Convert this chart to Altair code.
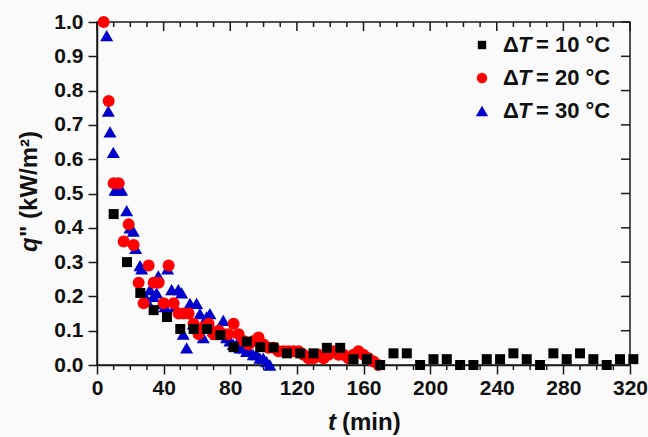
import altair as alt
import pandas as pd

# Heat flux decay measured at three wall superheats
t_10 = [10, 18, 26, 34, 42, 50, 58, 66, 74, 82, 90, 98, 106, 114, 122, 130, 138, 146,
        154, 162, 170, 178, 186, 194, 202, 210, 218, 226, 234, 242, 250, 258, 266, 274,
        282, 290, 298, 306, 314, 322]
q_10 = [0.44, 0.30, 0.21, 0.16, 0.14, 0.105, 0.105, 0.105, 0.087, 0.052, 0.068, 0.052,
        0.051, 0.034, 0.034, 0.034, 0.050, 0.050, 0.017, 0.017, 0.0, 0.034, 0.034, 0.0,
        0.017, 0.017, 0.0, 0.0, 0.017, 0.017, 0.034, 0.017, 0.0, 0.034, 0.017, 0.034,
        0.017, 0.0, 0.017, 0.017]

t_20 = [4, 7, 10, 13, 16, 19, 22, 25, 28, 31, 34, 37, 40, 43, 46, 49, 52, 55, 58, 61,
        64, 67, 70, 73, 76, 79, 82, 85, 88, 91, 94, 97, 100, 103, 106, 109, 112, 115,
        118, 121, 124, 127, 130, 133, 136, 139, 142, 145, 148, 151, 154, 157, 160, 163,
        166, 169]
q_20 = [1.00, 0.77, 0.53, 0.53, 0.36, 0.41, 0.35, 0.24, 0.18, 0.29, 0.24, 0.24, 0.18,
        0.29, 0.18, 0.15, 0.15, 0.15, 0.12, 0.09, 0.11, 0.12, 0.09, 0.10, 0.09, 0.09,
        0.12, 0.09, 0.07, 0.06, 0.07, 0.08, 0.06, 0.05, 0.05, 0.04, 0.04, 0.04, 0.04,
        0.04, 0.03, 0.02, 0.02, 0.03, 0.02, 0.03, 0.04, 0.03, 0.03, 0.02, 0.03, 0.04,
        0.03, 0.02, 0.01, 0.0]

t_30 = [5.8, 6.8, 7.8, 9.8, 10.8, 12.8, 14.8, 17.8, 19.8, 21.8, 23.2, 25.8, 26.8, 28.8,
        29.8, 31.8, 33.8, 35.8, 36.8, 38.8, 40.8, 42.4, 44.8, 46.8, 48.8, 50.8, 51.8,
        53.8, 55.8, 57.8, 59.8, 61.8, 63.8, 65.8, 67.8, 69.8, 71.8, 73.8, 75.8, 77.8,
        79.8, 81.8, 83.8, 85.8, 87.8, 89.8, 91.8, 93.8, 95.8, 97.8, 99.8, 101.8, 103.8]
q_30 = [0.96, 0.74, 0.68, 0.62, 0.51, 0.51, 0.51, 0.45, 0.40, 0.39, 0.34, 0.29, 0.28,
        0.20, 0.19, 0.22, 0.20, 0.21, 0.26, 0.18, 0.17, 0.28, 0.22, 0.17, 0.22, 0.21,
        0.09, 0.05, 0.18, 0.12, 0.18, 0.15, 0.08, 0.14, 0.15, 0.10, 0.09, 0.11, 0.13,
        0.08, 0.07, 0.06, 0.06, 0.05, 0.05, 0.04, 0.04, 0.03, 0.03, 0.02, 0.02, 0.01, 0.0]

series_dT = ["10", "20", "30"]
x_major = [0, 40, 80, 120, 160, 200, 240, 280, 320]
x_minor = [v for v in range(0, 321, 10) if v % 40 != 0]
y_major = [round(0.1 * i, 1) for i in range(11)]

W, H = 533, 343
FONT = "Liberation Sans"
INK = "#1a1a1a"
COLORS = {"10": "#000000", "20": "#ff0000", "30": "#0000cc"}
SHAPES = {"10": "square", "20": "circle", "30": "triangle-up"}
SIZES = {"10": 100, "20": 144, "30": 169}
LEG_SIZES = {"10": 70, "20": 110, "30": 150}

x_scale = alt.Scale(domain=[0, 320], nice=False, zero=False)
y_scale = alt.Scale(domain=[0, 1], nice=False, zero=False)

x_axis = alt.Axis(values=x_major, title=None, grid=False, tickSize=9, tickWidth=1.5,
                  tickColor=INK, domainColor=INK, domainWidth=1.5, labelFont=FONT,
                  labelFontSize=21, labelFontWeight="bold", labelColor="#111",
                  labelPadding=3, labelOverlap=False, labelFlush=False)
y_axis = alt.Axis(values=y_major, format=".1f", title=None, grid=False, tickSize=9,
                  tickWidth=1.5, tickColor=INK, domainColor=INK, domainWidth=1.5,
                  labelFont=FONT, labelFontSize=21, labelFontWeight="bold",
                  labelColor="#111", labelPadding=5, labelOverlap=False, labelFlush=False)

X = lambda f: alt.X(f, type="quantitative", scale=x_scale, axis=x_axis)
Y = lambda f: alt.Y(f, type="quantitative", scale=y_scale, axis=y_axis)


def scatter(t, q, key):
    df = pd.DataFrame({"t": t, "q": q})
    return alt.Chart(df).mark_point(
        shape=SHAPES[key], filled=True, color=COLORS[key], size=SIZES[key],
        opacity=1, strokeWidth=0
    ).encode(x=X("t"), y=Y("q"))


layers = [scatter(t_30, q_30, "30"), scatter(t_20, q_20, "20"), scatter(t_10, q_10, "10")]

# Mirror ticks on the top and right frame edges, plus minor ticks along the time axis
minor_df = pd.DataFrame({"t": x_minor})
major_df = pd.DataFrame({"t": x_major})
yt_df = pd.DataFrame({"q": y_major})
tick_style = dict(color=INK, strokeWidth=1.5)
layers += [
    alt.Chart(minor_df).mark_rule(**tick_style).encode(x=X("t"), y=alt.value(H), y2=alt.value(H + 5)),
    alt.Chart(minor_df).mark_rule(**tick_style).encode(x=X("t"), y=alt.value(0), y2=alt.value(5)),
    alt.Chart(major_df).mark_rule(**tick_style).encode(x=X("t"), y=alt.value(0), y2=alt.value(9)),
    alt.Chart(yt_df).mark_rule(**tick_style).encode(y=Y("q"), x=alt.value(W - 9), x2=alt.value(W)),
]

# Axis titles with italic symbols
txt = dict(font=FONT, fontWeight="bold", color="#111")
one = pd.DataFrame({"k": [0]})
layers += [
    alt.Chart(one).mark_text(text="t", fontStyle="italic", fontSize=24, align="left",
                             baseline="alphabetic", **txt)
      .encode(x=alt.value(231), y=alt.value(408)),
    alt.Chart(one).mark_text(text="(min)", fontSize=24, align="left",
                             baseline="alphabetic", **txt)
      .encode(x=alt.value(245), y=alt.value(408)),
    alt.Chart(one).mark_text(text="q", fontStyle="italic", fontSize=24, align="left",
                             baseline="alphabetic", angle=270, **txt)
      .encode(x=alt.value(-60), y=alt.value(230)),
    alt.Chart(one).mark_text(text="\" (kW/m\u00b2)", fontSize=24, align="left",
                             baseline="alphabetic", angle=270, **txt)
      .encode(x=alt.value(-60), y=alt.value(215)),
]

# Legend drawn row by row: symbol, then "\u0394", italic "T", then the value
for i, key in enumerate(series_dT):
    ly = 23 + i * 33
    layers += [
        alt.Chart(one).mark_point(shape=SHAPES[key], filled=True, color=COLORS[key],
                                  size=LEG_SIZES[key], opacity=1, strokeWidth=0)
          .encode(x=alt.value(385), y=alt.value(ly)),
        alt.Chart(one).mark_text(text="\u0394", fontSize=22, align="left",
                                 baseline="middle", **txt)
          .encode(x=alt.value(406), y=alt.value(ly)),
        alt.Chart(one).mark_text(text="T", fontStyle="italic", fontSize=22, align="left",
                                 baseline="middle", **txt)
          .encode(x=alt.value(421), y=alt.value(ly)),
        alt.Chart(one).mark_text(text=f"= {key} \u00b0C", fontSize=22, align="left",
                                 baseline="middle", **txt)
          .encode(x=alt.value(439), y=alt.value(ly)),
    ]

chart = alt.layer(*layers).properties(
    width=W, height=H,
    autosize=alt.AutoSizeParams(type="none"),
    padding={"left": 97, "top": 22, "right": 18, "bottom": 72},
    background="#fafafa",
).configure_view(stroke=INK, strokeWidth=1.5)

chart.save("out.html", embed_options={"renderer": "svg", "actions": False})
